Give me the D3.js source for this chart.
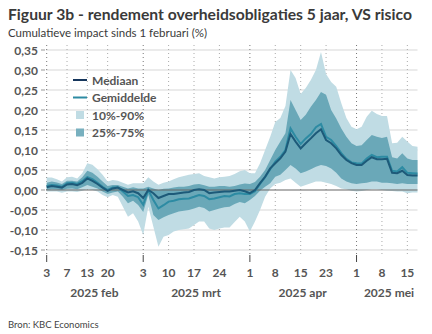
<!DOCTYPE html>
<html>
<head>
<meta charset="utf-8">
<script src="https://cdn.jsdelivr.net/npm/d3@7"></script>
<style>
  body { margin: 0; background: #fff; }
  svg { display: block; font-family: Lato, "Open Sans", sans-serif; }
</style>
</head>
<body>
<svg id="chart" width="432" height="334"></svg>
<script>
// handelsdagen (VS) van 3 feb tot 19 mei 2025
const dates = [
  "2025-02-03","2025-02-04","2025-02-05","2025-02-06","2025-02-07","2025-02-10","2025-02-11","2025-02-12","2025-02-13","2025-02-14",
  "2025-02-18","2025-02-19","2025-02-20","2025-02-21","2025-02-24","2025-02-25","2025-02-26","2025-02-27","2025-02-28",
  "2025-03-03","2025-03-04","2025-03-05","2025-03-06","2025-03-07","2025-03-10","2025-03-11","2025-03-12","2025-03-13","2025-03-14",
  "2025-03-17","2025-03-18","2025-03-19","2025-03-20","2025-03-21","2025-03-24","2025-03-25","2025-03-26","2025-03-27","2025-03-28","2025-03-31",
  "2025-04-01","2025-04-02","2025-04-03","2025-04-04","2025-04-07","2025-04-08","2025-04-09","2025-04-10","2025-04-11","2025-04-14",
  "2025-04-15","2025-04-16","2025-04-17","2025-04-21","2025-04-22","2025-04-23","2025-04-24","2025-04-25","2025-04-28","2025-04-29","2025-04-30",
  "2025-05-01","2025-05-02","2025-05-05","2025-05-06","2025-05-07","2025-05-08","2025-05-09","2025-05-12","2025-05-13","2025-05-14",
  "2025-05-15","2025-05-16","2025-05-19"
]

const p90 = [0.031,0.031,0.027,0.021,0.032,0.033,0.029,0.042,0.067,0.063,0.052,0.038,0.021,0.025,0.023,0.018,0.013,0.017,0.017,
  0.017,0.032,0.021,0.013,0.018,0.021,0.027,0.032,0.035,0.038,0.040,0.042,0.035,0.032,0.029,0.032,0.033,0.035,0.040,0.047,0.050,
  0.042,0.042,0.067,0.100,0.133,0.170,0.180,0.210,0.300,0.280,0.240,0.255,0.275,0.300,0.345,0.290,0.270,0.258,0.217,0.180,0.158,
  0.152,0.158,0.183,0.198,0.190,0.185,0.185,0.117,0.118,0.133,0.121,0.110,0.108]
const p75 = [0.018,0.021,0.019,0.015,0.023,0.023,0.021,0.032,0.048,0.043,0.033,0.021,0.010,0.0125,0.0125,0.008,0.004,0.007,0.004,
  0.004,0.008,0.004,0.000,0.003,0.004,0.006,0.008,0.008,0.010,0.014,0.015,0.012,0.008,0.008,0.010,0.010,0.008,0.010,0.014,0.016,
  0.015,0.020,0.033,0.050,0.075,0.100,0.121,0.142,0.225,0.200,0.175,0.188,0.208,0.225,0.245,0.238,0.200,0.179,0.154,0.133,0.117,
  0.110,0.112,0.125,0.1375,0.133,0.130,0.133,0.082,0.079,0.092,0.079,0.075,0.075]
const median = [0.007,0.010,0.008,0.006,0.014,0.015,0.012,0.018,0.029,0.023,0.015,0.006,-0.002,0.004,0.006,0.000,-0.006,-0.003,-0.008,
  -0.020,0.000,-0.008,-0.020,-0.015,-0.010,-0.010,-0.008,-0.006,-0.005,0.000,0.002,0.000,-0.008,-0.006,-0.005,-0.004,-0.004,-0.002,0.000,-0.003,
  -0.008,0.000,0.017,0.033,0.054,0.067,0.079,0.096,0.140,0.121,0.104,0.117,0.129,0.142,0.152,0.125,0.117,0.104,0.0875,0.075,0.067,
  0.0625,0.0625,0.073,0.082,0.077,0.077,0.078,0.043,0.042,0.048,0.0375,0.036,0.036]
const mean = [0.010,0.0125,0.011,0.008,0.017,0.018,0.015,0.022,0.032,0.027,0.018,0.008,0.000,0.006,0.007,-0.004,-0.015,-0.0125,-0.018,
  -0.037,0.000,-0.025,-0.046,-0.038,-0.029,-0.027,-0.023,-0.022,-0.021,-0.017,-0.0125,-0.015,-0.023,-0.021,-0.018,-0.015,-0.016,-0.010,-0.008,-0.010,
  -0.010,-0.003,0.015,0.032,0.052,0.071,0.083,0.100,0.154,0.133,0.115,0.129,0.140,0.157,0.165,0.133,0.125,0.110,0.092,0.078,0.069,
  0.067,0.066,0.079,0.0875,0.082,0.083,0.083,0.048,0.046,0.057,0.043,0.042,0.041]
const p25 = [0.000,0.002,0.001,0.000,0.003,0.004,0.002,0.007,0.0125,0.008,0.004,-0.004,-0.010,-0.006,-0.004,-0.017,-0.033,-0.027,-0.0375,
  -0.055,-0.0125,-0.0625,-0.075,-0.068,-0.0625,-0.058,-0.054,-0.052,-0.050,-0.046,-0.042,-0.045,-0.054,-0.050,-0.046,-0.043,-0.042,-0.035,-0.030,-0.033,
  -0.025,-0.015,-0.002,0.008,0.017,0.033,0.038,0.050,0.0625,0.054,0.042,0.046,0.052,0.058,0.0625,0.060,0.054,0.043,0.029,0.021,0.017,
  0.015,0.017,0.018,0.021,0.021,0.018,0.018,0.017,0.015,0.017,0.015,0.015,0.015]
const p10 = [-0.004,-0.004,-0.004,-0.007,-0.004,-0.004,-0.005,-0.002,0.002,0.000,-0.004,-0.0125,-0.018,-0.0125,-0.017,-0.042,-0.067,-0.058,-0.079,
  -0.1125,-0.042,-0.092,-0.142,-0.117,-0.1125,-0.104,-0.100,-0.098,-0.096,-0.0875,-0.079,-0.079,-0.096,-0.100,-0.096,-0.094,-0.094,-0.080,-0.067,-0.079,
  -0.104,-0.079,-0.050,-0.017,0.004,0.015,0.018,0.025,0.029,0.018,0.008,0.0125,0.017,0.021,0.021,0.018,0.015,0.010,0.004,0.002,-0.002,
  -0.004,-0.0025,0.000,0.002,0.002,0.000,-0.002,-0.0025,-0.004,-0.004,-0.008,-0.006,-0.006]

const yTicks = [-0.15,-0.10,-0.05,0,0.05,0.10,0.15,0.20,0.25,0.30,0.35]
const tickDates = ["2025-02-03","2025-02-07","2025-02-13","2025-02-20","2025-03-03","2025-03-10","2025-03-17","2025-03-24",
  "2025-04-01","2025-04-08","2025-04-15","2025-04-23","2025-05-01","2025-05-08","2025-05-15"]
const monthStarts = ["2025-02-03","2025-03-03","2025-04-01","2025-05-01"]
const months = ["2025-02","2025-03","2025-04","2025-05"]
const monthNames = ["2025 feb","2025 mrt","2025 apr","2025 mei"]

const colLight = "#c0dce4"
const colDark = "#6aa8b8"
const colMedian = "#1d5a79"
const colMean = "#2d8ba3"
const txt = "#555555"

let svg = d3.select("#chart")
let x = d3.scaleLinear().domain([0, dates.length - 1]).range([46.7, 417.5])
let y = d3.scaleLinear().domain([-0.15, 0.35]).range([250, 50])
let fmt = v => d3.format(".2f")(v).replace(".", ",").replace("−", "-")

// titels
svg.append("text").attr("x", 8).attr("y", 20)
  .attr("font-size", 15.7).attr("font-weight", "bold").attr("fill", "#3a3a3a")
  .text("Figuur 3b - rendement overheidsobligaties 5 jaar, VS risico")
svg.append("text").attr("x", 8).attr("y", 37)
  .attr("font-size", 11.5).attr("fill", "#3a3a3a")
  .text("Cumulatieve impact sinds 1 februari (%)")

// horizontale rasterlijnen
svg.selectAll(".grid").data(yTicks.filter(d => d != 0)).enter()
  .append("line")
  .attr("x1", 46).attr("x2", 417.5)
  .attr("y1", d => y(d)).attr("y2", d => y(d))
  .attr("stroke", "#e4e4e4").attr("stroke-width", 1.5)

// verticale stippellijnen
svg.selectAll(".vgrid").data(tickDates).enter()
  .append("line")
  .attr("x1", d => x(dates.indexOf(d))).attr("x2", d => x(dates.indexOf(d)))
  .attr("y1", 45).attr("y2", 257)
  .attr("stroke", d => monthStarts.includes(d) ? "#777" : "#aaa")
  .attr("stroke-width", 1)
  .attr("stroke-dasharray", "1,3")

// banden
let area = (lo, hi) => d3.area()
  .x((d, i) => x(i))
  .y0((d, i) => y(lo[i]))
  .y1((d, i) => y(hi[i]))
svg.append("path").datum(dates).attr("d", area(p10, p90)).attr("fill", colLight)
svg.append("path").datum(dates).attr("d", area(p25, p75)).attr("fill", colDark)

// nullijn
svg.append("line")
  .attr("x1", 46).attr("x2", 417.5)
  .attr("y1", y(0)).attr("y2", y(0))
  .attr("stroke", "#666").attr("stroke-width", 1.2)

let line = vals => d3.line().x((d, i) => x(i)).y((d, i) => y(vals[i]))
svg.append("path").datum(dates).attr("d", line(mean))
  .attr("fill", "none").attr("stroke", colMean).attr("stroke-width", 2)
svg.append("path").datum(dates).attr("d", line(median))
  .attr("fill", "none").attr("stroke", colMedian).attr("stroke-width", 2)

// y-as
let yAxis = svg.append("g")
yAxis.selectAll("text").data(yTicks).enter()
  .append("text")
  .attr("x", 38).attr("y", d => y(d) + 4.5)
  .attr("text-anchor", "end")
  .attr("font-size", 12).attr("font-weight", "bold").attr("fill", txt)
  .text(d => fmt(d))
yAxis.selectAll("line").data(yTicks).enter()
  .append("line")
  .attr("x1", 41).attr("x2", 45)
  .attr("y1", d => y(d)).attr("y2", d => y(d))
  .attr("stroke", "#999").attr("stroke-width", 1)

// x-as
svg.selectAll(".mtick").data(monthStarts).enter()
  .append("line")
  .attr("x1", d => x(dates.indexOf(d))).attr("x2", d => x(dates.indexOf(d)))
  .attr("y1", 255).attr("y2", 262)
  .attr("stroke", "#444").attr("stroke-width", 1)
svg.selectAll(".xlab").data(tickDates).enter()
  .append("text")
  .attr("x", d => x(dates.indexOf(d)))
  .attr("y", 277)
  .attr("text-anchor", "middle")
  .attr("font-size", 12).attr("font-weight", "bold").attr("fill", txt)
  .text(d => +d.slice(8))
svg.selectAll(".month").data(months).enter()
  .append("text")
  .attr("x", (m, k) => {
    let idx = dates.map((d, i) => d.startsWith(m) ? i : -1).filter(i => i >= 0)
    let c = (x(idx[0]) + x(idx[idx.length - 1])) / 2 + 2
    return Math.min(c, 392)
  })
  .attr("y", 297)
  .attr("text-anchor", "middle")
  .attr("font-size", 12).attr("font-weight", "bold").attr("fill", txt)
  .text((m, k) => monthNames[k])

// legende
let legend = svg.append("g").attr("transform", "translate(73,80)")
let items = [
  {name: "Mediaan", type: "line", color: "#16365c"},
  {name: "Gemiddelde", type: "line", color: colMean},
  {name: "10%-90%", type: "rect", color: colLight},
  {name: "25%-75%", type: "rect", color: "#78b0bf"}
]
items.forEach((it, k) => {
  let g = legend.append("g").attr("transform", `translate(0,${k * 17.5})`)
  if (it.type == "line") {
    g.append("line").attr("x1", 0).attr("x2", 14).attr("y1", 0).attr("y2", 0)
      .attr("stroke", it.color).attr("stroke-width", 2)
  } else {
    g.append("rect").attr("x", 3).attr("y", -4).attr("width", 8).attr("height", 8)
      .attr("fill", it.color)
  }
  g.append("text").attr("x", 19).attr("y", 4.5)
    .attr("font-size", 12).attr("font-weight", "bold").attr("fill", txt)
    .text(it.name)
})

svg.append("text").attr("x", 8).attr("y", 328)
  .attr("font-size", 9.5).attr("fill", "#444")
  .text("Bron: KBC Economics")
</script>
</body>
</html>
